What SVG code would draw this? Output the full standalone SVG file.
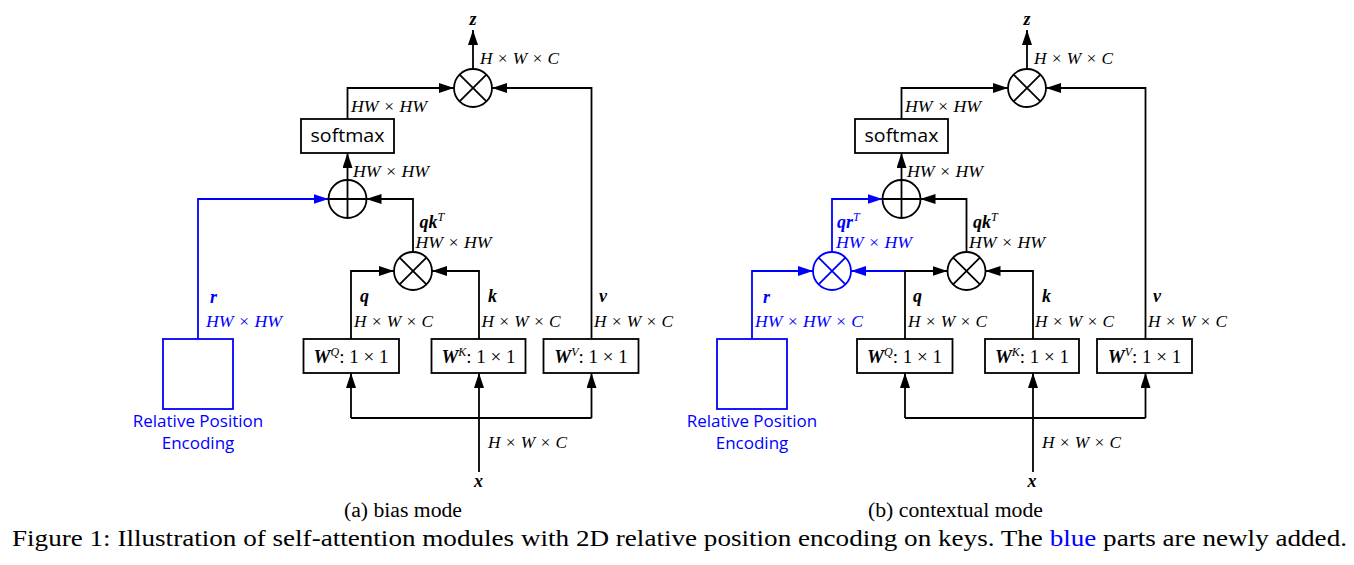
<svg xmlns="http://www.w3.org/2000/svg" width="1354" height="565" viewBox="0 0 1354 565">
<style>
.ln{fill:none;stroke:#000;stroke-width:1.8}
.bl{fill:none;stroke:#0000ff;stroke-width:1.8}
.box{fill:#fff;stroke:#000;stroke-width:1.8}
.bbox{fill:#fff;stroke:#0000ff;stroke-width:1.8}
.op{fill:#fff;stroke:#000;stroke-width:1.8}
.bop{fill:#fff;stroke:#0000ff;stroke-width:1.8}
.m{font-family:"Liberation Serif","DejaVu Serif",serif;font-style:italic;font-size:17px;fill:#000}
.v{font-family:"Liberation Serif","DejaVu Serif",serif;font-style:italic;font-weight:bold;font-size:18px;fill:#000}
.w{font-family:"Liberation Serif","DejaVu Serif",serif;font-size:19px;fill:#000}
.s{font-family:"Open Sans","Liberation Sans",sans-serif;font-size:18px;fill:#000}
.rp{font-family:"Open Sans","Liberation Sans",sans-serif;font-size:17px;fill:#0000ff;text-anchor:middle}
.cap{font-family:"Liberation Serif","Times New Roman",serif;font-size:20px;fill:#000}
.fig{font-family:"Liberation Serif","Times New Roman",serif;font-size:23px;fill:#000}
.blue{fill:#0000ff}
</style>
<defs>
<marker id="ah" markerUnits="userSpaceOnUse" markerWidth="15" markerHeight="10" refX="15" refY="5" orient="auto"><path d="M0,0L15,5L0,10z" fill="#000"/></marker>
<marker id="ahb" markerUnits="userSpaceOnUse" markerWidth="15" markerHeight="10" refX="15" refY="5" orient="auto"><path d="M0,0L15,5L0,10z" fill="#0000ff"/></marker>
</defs>

<!-- ===== (a) bias mode ===== -->
<g id="connectors-a">
<path class="ln" d="M473,69V30" marker-end="url(#ah)"/>
<path class="ln" d="M347.5,119V88H454" marker-end="url(#ah)"/>
<path class="ln" d="M591.5,339V88H492" marker-end="url(#ah)"/>
<path class="ln" d="M347.5,180V153" marker-end="url(#ah)"/>
<path class="ln" d="M413,252V199H366.5" marker-end="url(#ah)"/>
<path class="bl" d="M198,339V199H328.5" marker-end="url(#ahb)"/>
<path class="ln" d="M351,339V271H394" marker-end="url(#ah)"/>
<path class="ln" d="M479,339V271H432" marker-end="url(#ah)"/>
<path class="ln" d="M479,472V373" marker-end="url(#ah)"/>
<path class="ln" d="M351,418H591.5"/>
<path class="ln" d="M351,418V373" marker-end="url(#ah)"/>
<path class="ln" d="M591.5,418V373" marker-end="url(#ah)"/>
</g>
<g id="a-mulz"><circle class="op" cx="473" cy="88" r="19"/><path class="ln" d="M459.6,74.6L486.4,101.4M486.4,74.6L459.6,101.4"/></g>
<g id="a-softmax"><rect class="box" x="301" y="119" width="93" height="34"/><text class="s" x="347.5" y="142" text-anchor="middle" textLength="74" lengthAdjust="spacingAndGlyphs">softmax</text></g>
<g id="a-add"><circle class="op" cx="347.5" cy="199" r="19"/><path class="ln" d="M328.5,199H366.5M347.5,180V218"/></g>
<g id="a-mulqk"><circle class="op" cx="413" cy="271" r="19"/><path class="ln" d="M399.6,257.6L426.4,284.4M426.4,257.6L399.6,284.4"/></g>
<g id="a-rpe"><rect class="bbox" x="163" y="339" width="70" height="70"/><text class="rp" x="198" y="426.5">Relative Position</text><text class="rp" x="198" y="449">Encoding</text></g>
<g id="a-wq"><rect class="box" x="303.5" y="339" width="95.5" height="34"/><text class="w" x="351" y="362.5" text-anchor="middle"><tspan font-weight="bold" font-style="italic">W</tspan><tspan font-style="italic" font-size="12" dy="-7">Q</tspan><tspan dy="7">: 1 × 1</tspan></text></g>
<g id="a-wk"><rect class="box" x="431.5" y="339" width="94" height="34"/><text class="w" x="478.5" y="362.5" text-anchor="middle"><tspan font-weight="bold" font-style="italic">W</tspan><tspan font-style="italic" font-size="12" dy="-7">K</tspan><tspan dy="7">: 1 × 1</tspan></text></g>
<g id="a-wv"><rect class="box" x="543.5" y="339" width="95" height="34"/><text class="w" x="591" y="362.5" text-anchor="middle"><tspan font-weight="bold" font-style="italic">W</tspan><tspan font-style="italic" font-size="12" dy="-7">V</tspan><tspan dy="7">: 1 × 1</tspan></text></g>
<g id="a-labels">
<text class="v" x="473" y="25" text-anchor="middle">z</text>
<text class="m" x="480" y="64" textLength="79" lengthAdjust="spacingAndGlyphs">H × W × C</text>
<text class="m" x="351" y="112" textLength="76" lengthAdjust="spacingAndGlyphs">HW × HW</text>
<text class="m" x="353" y="176.5" textLength="76" lengthAdjust="spacingAndGlyphs">HW × HW</text>
<text class="v" x="419.5" y="228">qk<tspan font-weight="normal" font-size="12" dy="-7">T</tspan></text>
<text class="m" x="415.5" y="247.5" textLength="76" lengthAdjust="spacingAndGlyphs">HW × HW</text>
<text class="v blue" x="210" y="303">r</text>
<text class="m blue" x="206" y="326.5" textLength="76" lengthAdjust="spacingAndGlyphs">HW × HW</text>
<text class="v" x="360" y="302">q</text>
<text class="m" x="354" y="327" textLength="79" lengthAdjust="spacingAndGlyphs">H × W × C</text>
<text class="v" x="488" y="302">k</text>
<text class="m" x="481.5" y="327" textLength="79" lengthAdjust="spacingAndGlyphs">H × W × C</text>
<text class="v" x="599" y="302">v</text>
<text class="m" x="594" y="327" textLength="79" lengthAdjust="spacingAndGlyphs">H × W × C</text>
<text class="m" x="488" y="448" textLength="79" lengthAdjust="spacingAndGlyphs">H × W × C</text>
<text class="v" x="478.5" y="487" text-anchor="middle">x</text>
<text class="cap" x="344" y="517" textLength="118" lengthAdjust="spacingAndGlyphs">(a) bias mode</text>
</g>

<!-- ===== (b) contextual mode ===== -->
<g id="connectors-b">
<path class="ln" d="M1027,69V30" marker-end="url(#ah)"/>
<path class="ln" d="M901.5,119V88H1008" marker-end="url(#ah)"/>
<path class="ln" d="M1145.5,339V88H1046" marker-end="url(#ah)"/>
<path class="ln" d="M901.5,180V153" marker-end="url(#ah)"/>
<path class="ln" d="M966.5,252V199H920.5" marker-end="url(#ah)"/>
<path class="bl" d="M832,252V199H882.5" marker-end="url(#ahb)"/>
<path class="bl" d="M752,339V271H813" marker-end="url(#ahb)"/>
<path class="bl" d="M905,271H851" marker-end="url(#ahb)"/>
<path class="ln" d="M905,339V271H947.5" marker-end="url(#ah)"/>
<path class="ln" d="M1033,339V271H985.5" marker-end="url(#ah)"/>
<path class="ln" d="M1033,472V373" marker-end="url(#ah)"/>
<path class="ln" d="M905,418H1145.5"/>
<path class="ln" d="M905,418V373" marker-end="url(#ah)"/>
<path class="ln" d="M1145.5,418V373" marker-end="url(#ah)"/>
</g>
<g id="b-mulz"><circle class="op" cx="1027" cy="88" r="19"/><path class="ln" d="M1013.6,74.6L1040.4,101.4M1040.4,74.6L1013.6,101.4"/></g>
<g id="b-softmax"><rect class="box" x="855" y="119" width="93" height="34"/><text class="s" x="901.5" y="142" text-anchor="middle" textLength="74" lengthAdjust="spacingAndGlyphs">softmax</text></g>
<g id="b-add"><circle class="op" cx="901.5" cy="199" r="19"/><path class="ln" d="M882.5,199H920.5M901.5,180V218"/></g>
<g id="b-mulqr"><circle class="bop" cx="832" cy="271" r="19"/><path class="bl" d="M818.6,257.6L845.4,284.4M845.4,257.6L818.6,284.4"/></g>
<g id="b-mulqk"><circle class="op" cx="966.5" cy="271" r="19"/><path class="ln" d="M953.1,257.6L979.9,284.4M979.9,257.6L953.1,284.4"/></g>
<g id="b-rpe"><rect class="bbox" x="717" y="339" width="70" height="70"/><text class="rp" x="752" y="426.5">Relative Position</text><text class="rp" x="752" y="449">Encoding</text></g>
<g id="b-wq"><rect class="box" x="857" y="339" width="95.5" height="34"/><text class="w" x="904.5" y="362.5" text-anchor="middle"><tspan font-weight="bold" font-style="italic">W</tspan><tspan font-style="italic" font-size="12" dy="-7">Q</tspan><tspan dy="7">: 1 × 1</tspan></text></g>
<g id="b-wk"><rect class="box" x="985" y="339" width="94" height="34"/><text class="w" x="1032" y="362.5" text-anchor="middle"><tspan font-weight="bold" font-style="italic">W</tspan><tspan font-style="italic" font-size="12" dy="-7">K</tspan><tspan dy="7">: 1 × 1</tspan></text></g>
<g id="b-wv"><rect class="box" x="1097" y="339" width="95" height="34"/><text class="w" x="1144.5" y="362.5" text-anchor="middle"><tspan font-weight="bold" font-style="italic">W</tspan><tspan font-style="italic" font-size="12" dy="-7">V</tspan><tspan dy="7">: 1 × 1</tspan></text></g>
<g id="b-labels">
<text class="v" x="1027" y="25" text-anchor="middle">z</text>
<text class="m" x="1034" y="64" textLength="79" lengthAdjust="spacingAndGlyphs">H × W × C</text>
<text class="m" x="905" y="112" textLength="76" lengthAdjust="spacingAndGlyphs">HW × HW</text>
<text class="m" x="907" y="176.5" textLength="76" lengthAdjust="spacingAndGlyphs">HW × HW</text>
<text class="v" x="973" y="228">qk<tspan font-weight="normal" font-size="12" dy="-7">T</tspan></text>
<text class="m" x="969" y="247.5" textLength="76" lengthAdjust="spacingAndGlyphs">HW × HW</text>
<text class="v blue" x="837" y="228">qr<tspan font-weight="normal" font-size="12" dy="-7">T</tspan></text>
<text class="m blue" x="836" y="247.5" textLength="76" lengthAdjust="spacingAndGlyphs">HW × HW</text>
<text class="v blue" x="763" y="303">r</text>
<text class="m blue" x="755" y="326.5" textLength="108" lengthAdjust="spacingAndGlyphs">HW × HW × C</text>
<text class="v" x="913" y="302">q</text>
<text class="m" x="908" y="327" textLength="79" lengthAdjust="spacingAndGlyphs">H × W × C</text>
<text class="v" x="1042" y="302">k</text>
<text class="m" x="1035" y="327" textLength="79" lengthAdjust="spacingAndGlyphs">H × W × C</text>
<text class="v" x="1153" y="302">v</text>
<text class="m" x="1148" y="327" textLength="79" lengthAdjust="spacingAndGlyphs">H × W × C</text>
<text class="m" x="1042" y="448" textLength="79" lengthAdjust="spacingAndGlyphs">H × W × C</text>
<text class="v" x="1032" y="487" text-anchor="middle">x</text>
<text class="cap" x="868" y="517" textLength="175" lengthAdjust="spacingAndGlyphs">(b) contextual mode</text>
</g>

<text class="fig" x="12" y="546" textLength="1335" lengthAdjust="spacingAndGlyphs">Figure 1: Illustration of self-attention modules with 2D relative position encoding on keys. The <tspan class="blue">blue</tspan> parts are newly added.</text>
</svg>
